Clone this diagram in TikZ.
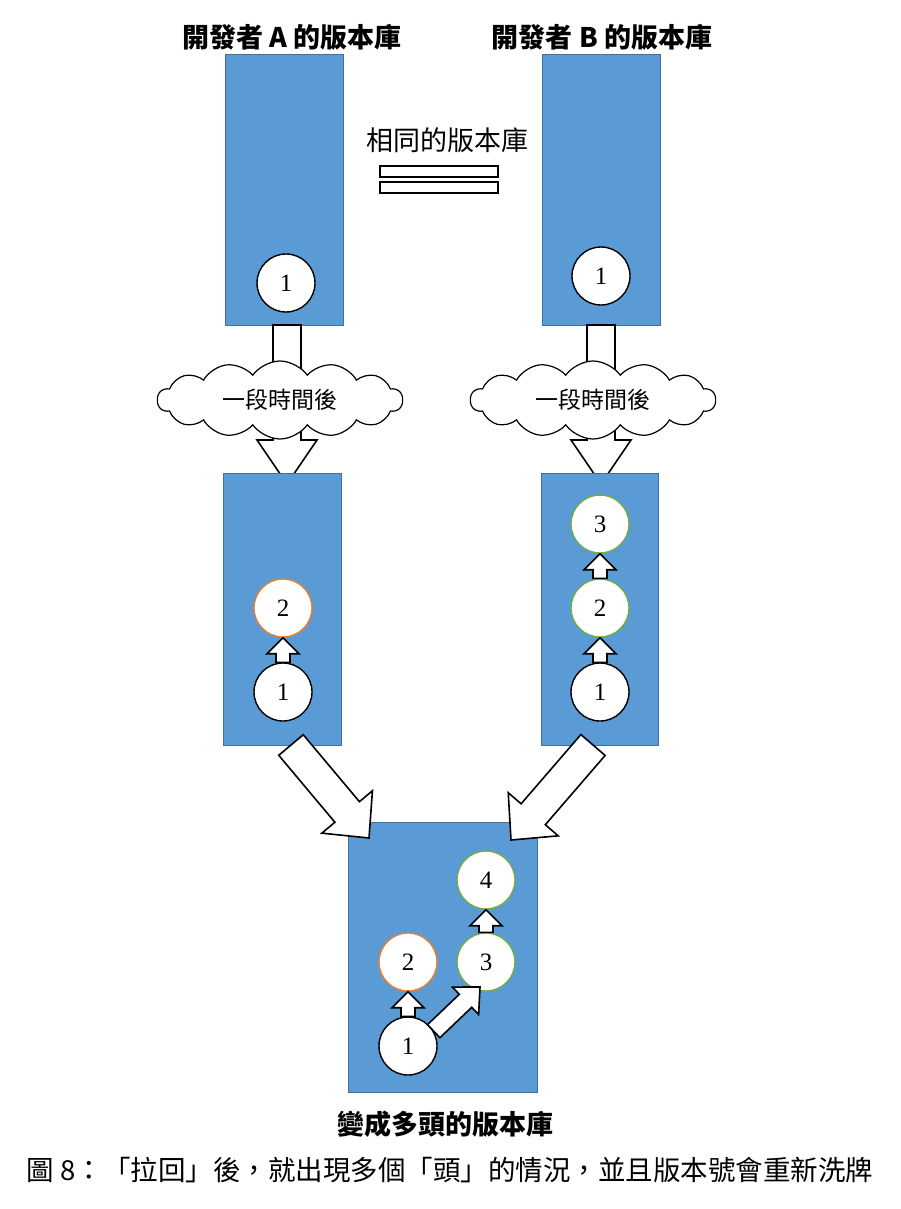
\documentclass[tikz,border=0pt]{standalone}
\usepackage{fontspec}
\setmainfont{Liberation Serif}
\newfontfamily\cjk{Noto Sans CJK TC}
\usetikzlibrary{calc,shapes.symbols}
\definecolor{repo}{HTML}{5B9BD5}
\definecolor{repob}{HTML}{41719C}
\definecolor{orn}{HTML}{ED7D31}
\definecolor{grn}{HTML}{70AD47}
\tikzset{
 repobox/.style={draw=repob,fill=repo,line width=1pt},
 commit/.style={circle,draw=black,fill=white,line width=1.4pt,minimum size=58pt,inner sep=0pt,font=\fontsize{25}{25}\selectfont},
 ocommit/.style={commit,draw=orn},
 gcommit/.style={commit,draw=grn},
 blk/.style={draw=black,fill=white,line width=1.6pt,line join=miter},
 cloudy/.style={cloud,cloud puffs=14,cloud puff arc=110,aspect=3.2,draw,fill=white,line width=1.2pt,minimum width=245pt,minimum height=78pt,font=\cjk\fontsize{23}{23}\selectfont},
}
\newcommand\barrow[5]{%
 \coordinate (ba) at ($(#2)!#5pt!(#1)$);
 \draw[blk] ($(#1)!#3pt!90:(#2)$) -- ($(ba)!#3pt!-90:(#1)$) -- ($(ba)!#4pt!-90:(#1)$) -- (#2)
   -- ($(ba)!#4pt!90:(#1)$) -- ($(ba)!#3pt!90:(#1)$) -- ($(#1)!#3pt!-90:(#2)$) -- cycle;}
\begin{document}
\begin{tikzpicture}[x=1pt,y=-1pt]
\useasboundingbox (0,0) rectangle (901,1209);
% titles
\node[font=\cjk\bfseries\fontsize{27}{27}\selectfont] (ta) at (292,37) {開發者 \textbf{A} 的版本庫};
\node[font=\cjk\bfseries\fontsize{27}{27}\selectfont] (tb) at (602,37) {開發者 \textbf{B} 的版本庫};
% top repos
\draw[repobox] (225,55) rectangle (343,325);
\draw[repobox] (542,55) rectangle (660,325);
\node[font=\cjk\fontsize{27}{27}\selectfont] (same) at (447,140) {相同的版本庫};
\draw[line width=1.4pt,fill=white] (380,166) rectangle (498,177);
\draw[line width=1.4pt,fill=white] (380,182) rectangle (498,193);
\node[commit] (a1) at (286,283) {1};
\node[commit] (b1) at (601,276) {1};
% arrows through clouds
\coordinate (as) at (287,325); \coordinate (ae) at (287,484);
\coordinate (bs) at (601,325); \coordinate (be) at (601,484);
\barrow{as}{ae}{14}{30}{44}
\barrow{bs}{be}{14}{30}{44}
\node[cloudy] (ca) at (280,400) {一段時間後};
\node[cloudy] (cb) at (593,400) {一段時間後};
% middle repos
\draw[repobox] (223,473) rectangle (341,745);
\draw[repobox] (541,473) rectangle (658,745);
\node[commit] (m1) at (283,692) {1};
\node[ocommit] (m2) at (283,608) {2};
\node[commit] (n1) at (600,692) {1};
\node[gcommit] (n2) at (600,608) {2};
\node[gcommit] (n3) at (600,524) {3};
\barrow{m1.north}{m2.south}{7}{16}{16}
\barrow{n1.north}{n2.south}{7}{16}{16}
\barrow{n2.north}{n3.south}{7}{16}{16}
% bottom repo
\draw[repobox] (348,822) rectangle (537,1092);
% big diagonal arrows
\coordinate (ls) at (291,745); \coordinate (le) at (369,838);
\coordinate (rs) at (593,745); \coordinate (re) at (511,840);
\barrow{ls}{le}{16}{33}{34}
\barrow{rs}{re}{16}{33}{34}
\node[commit] (c1) at (408,1046) {1};
\node[ocommit] (c2) at (408,962) {2};
\node[gcommit] (c3) at (486,962) {3};
\node[gcommit] (c4) at (486,880) {4};
\barrow{c1.north}{c2.south}{7}{16}{16}
\barrow{c3.north}{c4.south}{7}{16}{16}
\coordinate (dg) at (480,987);
\barrow{c1.30}{dg}{9}{19}{20}
\node[font=\cjk\bfseries\fontsize{27}{27}\selectfont] (cap1) at (445,1124) {變成多頭的版本庫};
\node[font=\cjk\fontsize{27.5}{27.5}\selectfont] (cap2) at (450,1170) {圖 8：「拉回」後，就出現多個「頭」的情況，並且版本號會重新洗牌};
\end{tikzpicture}
\end{document}
